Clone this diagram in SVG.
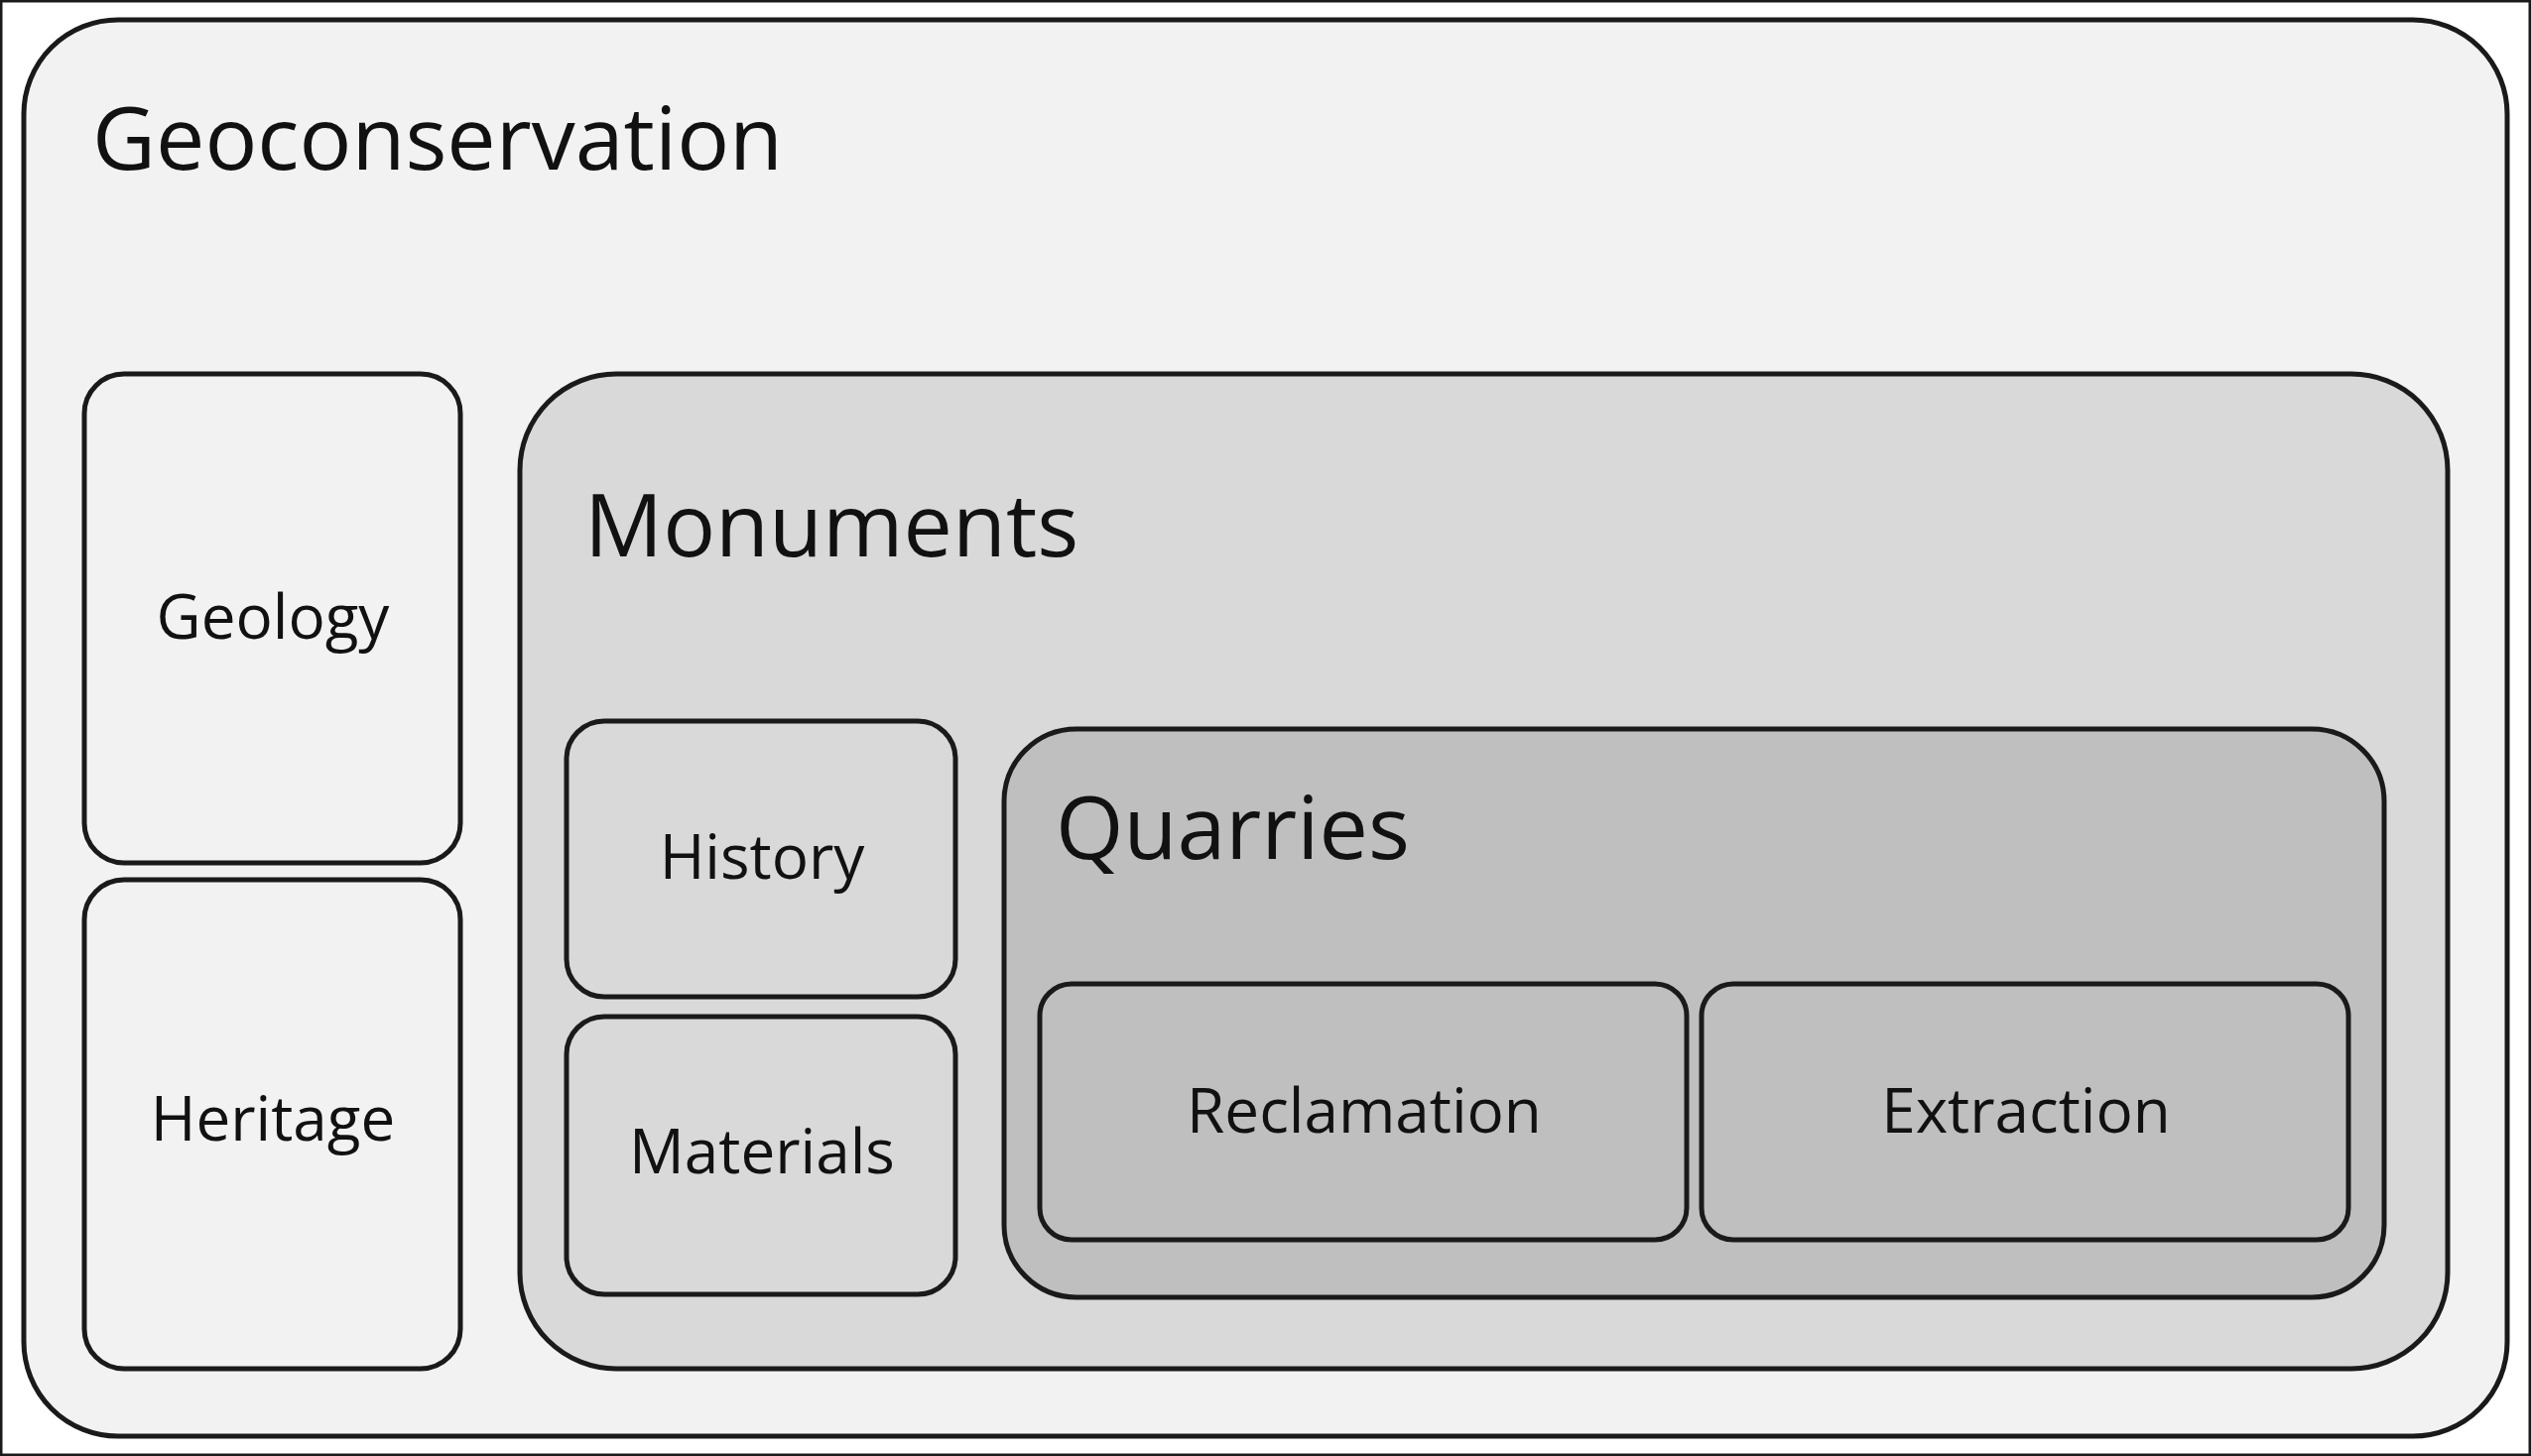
<svg xmlns="http://www.w3.org/2000/svg" width="2551" height="1468" viewBox="0 0 2551 1468">
<style>
rect{stroke:#1a1a1a;stroke-width:5}
text{font-family:"Open Sans","Liberation Sans",sans-serif;fill:#111}
.big{font-size:88px}
.sm{font-size:62px;text-anchor:middle}
</style>
<rect width="2551" height="1468" fill="#fff" stroke="none"/>
<g id="geoconservation"><rect x="24" y="20" width="2503" height="1428" rx="95" fill="#f2f2f2"/><text class="big" x="93" y="171">Geoconservation</text></g>
<g id="geology"><rect x="85" y="377" width="379" height="493" rx="40" fill="#f2f2f2"/><text class="sm" x="275" y="644">Geology</text></g>
<g id="heritage"><rect x="85" y="887" width="379" height="493" rx="40" fill="#f2f2f2"/><text class="sm" x="275" y="1150">Heritage</text></g>
<g id="monuments"><rect x="524" y="377" width="1943" height="1003" rx="97" fill="#d9d9d9"/><text class="big" x="589" y="561">Monuments</text></g>
<g id="history"><rect x="571" y="727" width="392" height="278" rx="38" fill="#d9d9d9"/><text class="sm" x="768" y="886">History</text></g>
<g id="materials"><rect x="571" y="1025" width="392" height="280" rx="38" fill="#d9d9d9"/><text class="sm" x="768" y="1183">Materials</text></g>
<g id="quarries"><rect x="1012" y="735" width="1391" height="573" rx="73" fill="#bfbfbf"/><text class="big" x="1064" y="866">Quarries</text></g>
<g id="reclamation"><rect x="1048" y="992" width="652" height="258" rx="32" fill="#bfbfbf"/><text class="sm" x="1375" y="1142">Reclamation</text></g>
<g id="extraction"><rect x="1715" y="992" width="652" height="258" rx="32" fill="#bfbfbf"/><text class="sm" x="2042" y="1142">Extraction</text></g>
<g id="connectors"/>
</svg>
